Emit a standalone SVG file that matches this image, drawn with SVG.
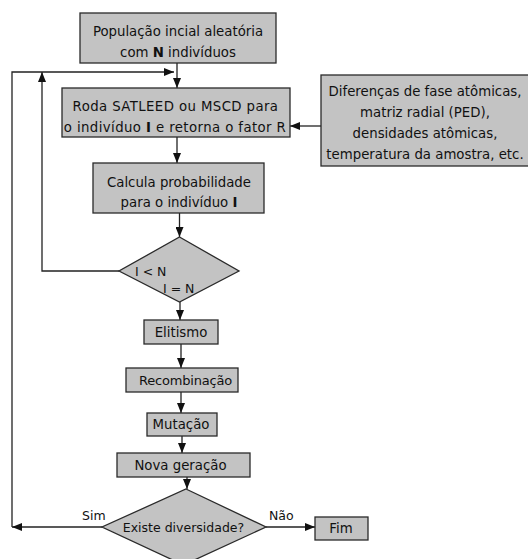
<svg xmlns="http://www.w3.org/2000/svg" width="528" height="559" viewBox="0 0 528 559">
  <style>
    .box { fill: #c3c3c3; stroke: #2a2a2a; stroke-width: 1.3; }
    .txt { font-family: "DejaVu Sans", "Liberation Sans", sans-serif; font-size: 13.3px; fill: #111; text-anchor: middle; }
    .lbl { font-family: "DejaVu Sans", "Liberation Sans", sans-serif; font-size: 12.5px; fill: #111; }
    .b { font-weight: bold; }
    .wire { fill: none; stroke: #222; stroke-width: 1.3; }
  </style>
  <defs>
    <marker id="arrow" viewBox="0 0 10 8" refX="10" refY="4" markerWidth="10" markerHeight="8" markerUnits="userSpaceOnUse" orient="auto">
      <path d="M0,0 L10,4 L0,8 Z" fill="#111"/>
    </marker>
  </defs>
  <rect width="528" height="559" fill="#fff"/>

  <g id="connectors">
    <path class="wire" d="M177,63 V88" marker-end="url(#arrow)"/>
    <path class="wire" d="M321,126 H290" marker-end="url(#arrow)"/>
    <path class="wire" d="M177,137 V163" marker-end="url(#arrow)"/>
    <path class="wire" d="M179.5,213 V237" marker-end="url(#arrow)"/>
    <path class="wire" d="M119,271 H42 V72" marker-end="url(#arrow)"/>
    <path class="wire" d="M180,302 V320" marker-end="url(#arrow)"/>
    <path class="wire" d="M181,344 V368" marker-end="url(#arrow)"/>
    <path class="wire" d="M181,392 V413" marker-end="url(#arrow)"/>
    <path class="wire" d="M182,436 V453" marker-end="url(#arrow)"/>
    <path class="wire" d="M187,477 V489" marker-end="url(#arrow)"/>
    <path class="wire" d="M102,527 H12" marker-end="url(#arrow)"/>
    <path class="wire" d="M12,527 V72 H174" marker-end="url(#arrow)"/>
    <path class="wire" d="M266,527 H315" marker-end="url(#arrow)"/>
  </g>

  <g id="populacao">
    <rect class="box" x="80" y="13" width="196" height="50"/>
    <text class="txt" x="178" y="36">População incial aleatória</text>
    <text class="txt" x="178" y="57">com <tspan class="b">N</tspan> indivíduos</text>
  </g>

  <g id="roda">
    <rect class="box" x="62" y="88" width="228" height="49"/>
    <text class="txt" x="175.5" y="111" style="letter-spacing:0.4px">Roda SATLEED ou MSCD para</text>
    <text class="txt" x="175" y="132" style="letter-spacing:0.4px">o indivíduo <tspan class="b">I</tspan> e retorna o fator R</text>
  </g>

  <g id="entradas">
    <rect class="box" x="321" y="75" width="210" height="91"/>
    <text class="txt" x="425" y="96">Diferenças de fase atômicas,</text>
    <text class="txt" x="425" y="117">matriz radial (PED),</text>
    <text class="txt" x="425" y="138">densidades atômicas,</text>
    <text class="txt" x="425" y="159">temperatura da amostra, etc.</text>
  </g>

  <g id="calcula">
    <rect class="box" x="93" y="163" width="171" height="50"/>
    <text class="txt" x="179" y="187">Calcula probabilidade</text>
    <text class="txt" x="179" y="207">para o indivíduo <tspan class="b">I</tspan></text>
  </g>

  <g id="teste-n">
    <polygon class="box" points="179.5,237 239,271 179.5,302 119,271"/>
    <text class="lbl" x="135" y="276">I &lt; N</text>
    <text class="lbl" x="163" y="293">I = N</text>
  </g>

  <g id="elitismo">
    <rect class="box" x="144" y="320" width="74" height="24"/>
    <text class="txt" x="181" y="337">Elitismo</text>
  </g>

  <g id="recombinacao">
    <rect class="box" x="126" y="368" width="112" height="24"/>
    <text class="txt" x="185.5" y="385" style="font-size:13px;letter-spacing:-0.2px">Recombinação</text>
  </g>

  <g id="mutacao">
    <rect class="box" x="147" y="413" width="70" height="23"/>
    <text class="txt" x="181" y="429">Mutação</text>
  </g>

  <g id="nova-geracao">
    <rect class="box" x="117" y="453" width="133" height="24"/>
    <text class="txt" x="180.5" y="470">Nova geração</text>
  </g>

  <g id="diversidade">
    <polygon class="box" points="186,489 266,527 183.5,565 102,527"/>
    <text class="txt" x="183.5" y="532" style="font-size:12.5px">Existe diversidade?</text>
    <text class="lbl" x="82" y="520">Sim</text>
    <text class="lbl" x="269" y="520">Não</text>
  </g>

  <g id="fim">
    <rect class="box" x="315" y="517" width="53" height="23"/>
    <text class="txt" x="341" y="533">Fim</text>
  </g>
</svg>
